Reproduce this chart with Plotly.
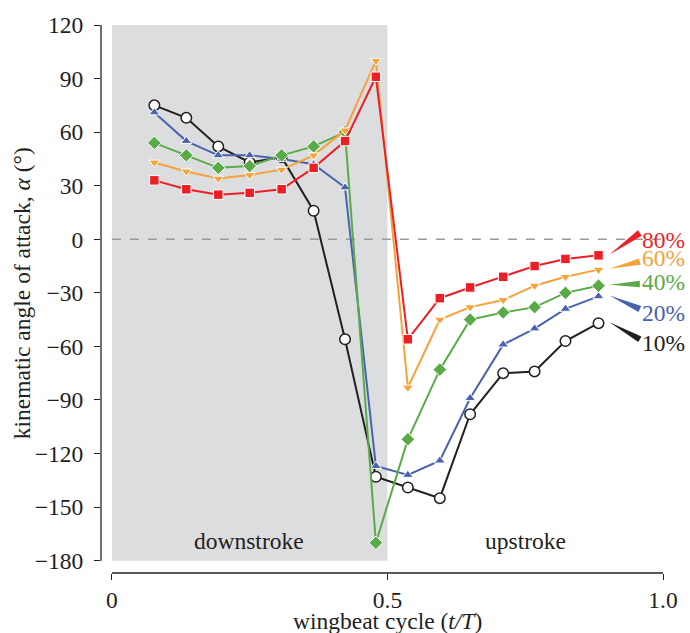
import plotly.graph_objects as go

# wingbeat phase of each sample (t/T)
phase = [0.077, 0.135, 0.193, 0.250, 0.308, 0.366, 0.423, 0.479,
         0.537, 0.595, 0.650, 0.710, 0.767, 0.823, 0.883]

# kinematic angle of attack (deg) at each span position
aoa_10 = [75, 68, 52, 43, 46, 16, -56, -133, -139, -145, -98, -75, -74, -57, -47]
aoa_20 = [71, 55, 47, 47, 45, 42, 29, -127, -132, -124, -89, -59, -50, -39, -32]
aoa_40 = [54, 47, 40, 41, 47, 52, 60, -170, -112, -73, -45, -41, -38, -30, -26]
aoa_60 = [43, 38, 34, 36, 39, 47, 61, 100, -83, -45, -38, -34, -26, -21, -17]
aoa_80 = [33, 28, 25, 26, 28, 40, 55, 91, -56, -33, -27, -21, -15, -11, -9]

span_labels = ["10%", "20%", "40%", "60%", "80%"]
label_y = [-58.2, -41.5, -23.7, -10.4, -0.2]
wedge_end_y = [-56, -39, -25, -12.5, 3.5]

y_ticks = [120, 90, 60, 30, 0, -30, -60, -90, -120, -150, -180]
x_ticks = [0, 0.5, 1.0]
x_tick_text = ["0", "0.5", "1.0"]

W, H = 690, 633
M_L, M_R, M_T, M_B = 101, 23, 20, 60
X_RANGE = [-0.0198, 1.0]
Y_RANGE = [-186.9, 120]
SERIF = "Liberation Serif, Times New Roman, serif"
FS = 23.5
INK = "#231f20"

colors = {"10%": INK, "20%": "#4a62ad", "40%": "#5aab47",
          "60%": "#f5a23a", "80%": "#ec1f26"}
symbols = {"10%": "circle", "20%": "triangle-up", "40%": "diamond",
           "60%": "triangle-down", "80%": "square"}
series = {"10%": aoa_10, "20%": aoa_20, "40%": aoa_40, "60%": aoa_60, "80%": aoa_80}

px_per_x = (W - M_L - M_R) / (X_RANGE[1] - X_RANGE[0])
px_per_y = (H - M_T - M_B) / (Y_RANGE[1] - Y_RANGE[0])

fig = go.Figure()

for name in span_labels:
    col = colors[name]
    if name == "10%":
        marker = dict(symbol="circle", size=10.5, color="white",
                      line=dict(color=col, width=1.5))
    else:
        sz = 10.5 if symbols[name] == "diamond" else 9.5
        marker = dict(symbol=symbols[name], size=sz, color=col,
                      line=dict(color="white", width=1))
    fig.add_trace(go.Scatter(x=phase, y=series[name], mode="lines+markers",
                             line=dict(color=col, width=2), marker=marker,
                             name=name, showlegend=False, cliponaxis=False))

shapes = [
    # downstroke band
    dict(type="rect", xref="x", yref="y", x0=0, x1=0.5, y0=-180, y1=120,
         fillcolor="#dcdddf", line=dict(width=0), layer="below"),
    # zero reference
    dict(type="line", xref="x", yref="y", x0=0, x1=1.0, y0=0, y1=0,
         line=dict(color="#9a9a9a", width=1.5, dash="dash"), layer="below"),
    # offset axis spines
    dict(type="line", xref="paper", yref="y", x0=0, x1=0, y0=-180, y1=120,
         line=dict(color=INK, width=1.3)),
    dict(type="line", xref="x", yref="paper", x0=0, x1=1.0, y0=0, y1=0,
         line=dict(color=INK, width=1.3)),
]

# tapered leaders from the last sample to each span label
for name, ye in zip(span_labels, wedge_end_y):
    xs, ys = phase[-1] + 0.02, series[name][-1] + 0.5
    xe = 0.958
    dxp = (xe - xs) * px_per_x
    dyp = (ye - ys) * px_per_y
    length = (dxp ** 2 + dyp ** 2) ** 0.5
    half = 3.3
    nx, ny = -dyp / length * half, dxp / length * half
    x1, y1 = xe + nx / px_per_x, ye + ny / px_per_y
    x2, y2 = xe - nx / px_per_x, ye - ny / px_per_y
    path = f"M {xs},{ys} L {x1},{y1} L {x2},{y2} Z"
    shapes.append(dict(type="path", xref="x", yref="y", path=path,
                       fillcolor=colors[name], line=dict(width=0)))

annotations = [
    dict(x=0.249, y=-169, xref="x", yref="y", text="downstroke", showarrow=False,
         font=dict(family=SERIF, size=FS, color=INK)),
    dict(x=0.75, y=-169, xref="x", yref="y", text="upstroke", showarrow=False,
         font=dict(family=SERIF, size=FS, color=INK)),
    dict(x=0.5, y=-0.088, xref="x", yref="paper", text="wingbeat cycle (<i>t/T</i>)",
         showarrow=False, yanchor="middle",
         font=dict(family=SERIF, size=FS, color=INK)),
    dict(x=-0.14, y=-30, xref="paper", yref="y", textangle=-90,
         text="kinematic angle of attack, <i>α</i> (°)", showarrow=False,
         xanchor="center", font=dict(family=SERIF, size=FS, color=INK)),
]
for name, ly in zip(span_labels, label_y):
    annotations.append(dict(x=0.958, y=ly, xref="x", yref="y", text=name,
                            showarrow=False, xanchor="left",
                            font=dict(family=SERIF, size=FS, color=colors[name])))

fig.update_layout(
    width=W, height=H,
    margin=dict(l=M_L, r=M_R, t=M_T, b=M_B),
    paper_bgcolor="white", plot_bgcolor="white",
    shapes=shapes, annotations=annotations,
    font=dict(family=SERIF, color=INK),
    xaxis=dict(range=X_RANGE, tickvals=x_ticks, ticktext=x_tick_text,
               ticks="outside", ticklen=6, tickwidth=1.3, tickcolor=INK,
               showgrid=False, zeroline=False, showline=False,
               tickfont=dict(family=SERIF, size=FS, color=INK)),
    yaxis=dict(range=Y_RANGE, tickvals=y_ticks, ticks="outside", ticklen=6,
               tickwidth=1.3, tickcolor=INK, showgrid=False, zeroline=False,
               showline=False, ticklabelstandoff=6,
               tickfont=dict(family=SERIF, size=FS, color=INK)),
)

fig.write_html("out.html")
